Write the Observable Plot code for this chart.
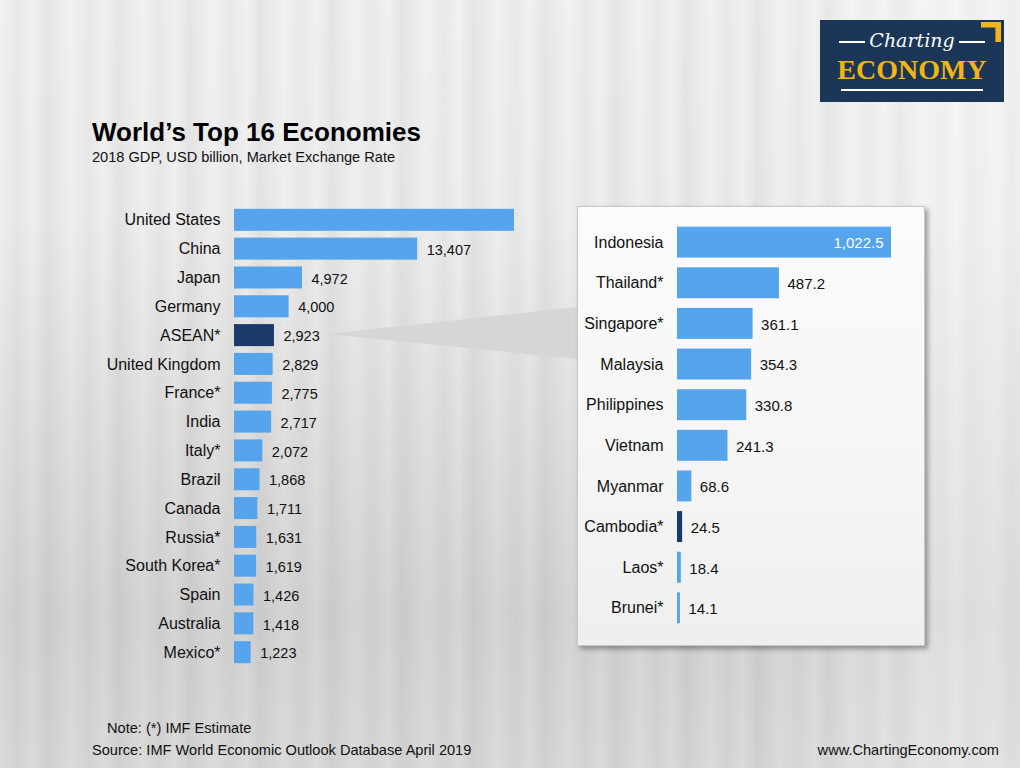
<!DOCTYPE html>
<html>
<head>
<meta charset="utf-8">
<script src="https://cdn.jsdelivr.net/npm/d3@7"></script>
<script src="https://cdn.jsdelivr.net/npm/@observablehq/plot@0.6"></script>
<style>
  html, body { margin: 0; padding: 0; }
  body { width: 1020px; height: 768px; overflow: hidden; font-family: Arial, "Liberation Sans", sans-serif; }
  #page {
    position: relative; width: 1020px; height: 768px; overflow: hidden;
    background:
      linear-gradient(to right, rgba(255,255,255,0) 0%, rgba(255,255,255,0) 75%, rgba(255,255,255,0.35) 95%, rgba(255,255,255,0.2) 100%),
      repeating-linear-gradient(to right, rgba(0,0,0,0.0) 0px, rgba(0,0,0,0.035) 18px, rgba(0,0,0,0.0) 33px, rgba(0,0,0,0.05) 47px, rgba(0,0,0,0.0) 71px),
      linear-gradient(to bottom, #f1f1f1 0%, #eeeeee 28%, #e0e0e0 55%, #d4d4d4 80%, #dadada 100%);
  }
  .abs { position: absolute; }
  #title { left: 92px; top: 117px; font-size: 26px; font-weight: bold; color: #000; white-space: nowrap; }
  #subtitle { left: 92px; top: 149px; font-size: 14.6px; color: #111; white-space: nowrap; }
  #note { left: 107px; top: 720px; font-size: 14.6px; color: #111; }
  #source { left: 92px; top: 742px; font-size: 14.6px; color: #111; }
  #web { right: 21px; top: 742px; font-size: 14.6px; color: #111; }
  #callout { left: 0; top: 0; width: 1020px; height: 768px; background: #d6d6d6;
    clip-path: polygon(327px 334px, 578px 307px, 578px 359px); }
  #panel { left: 577px; top: 206px; width: 346px; height: 438px;
    background: linear-gradient(to bottom, #fbfbfb 0%, #f6f6f6 50%, #efefef 100%);
    border: 1px solid #c8c8c8; box-shadow: 3px 3px 5px rgba(0,0,0,0.35); }
  #leftplot { left: 0; top: 190px; }
  #rightplot { left: 577px; top: 206px; }
  #logo { left: 820px; top: 20px; width: 184px; height: 82px; background: #1c3657; overflow: hidden; }
  #logo .corner { position: absolute; right: 3px; top: 2px; width: 20px; height: 20px; background: #f2b516;
    clip-path: polygon(0 0, 100% 0, 100% 100%, 72% 100%, 72% 28%, 0 28%); }
  #logo .charting { position: absolute; left: 0; width: 184px; top: 9px; text-align: center; color: #fff;
    font-family: "DejaVu Serif", serif; font-style: italic; font-size: 19px; white-space: nowrap; }
  #logo .charting span.dash { display: inline-block; width: 26px; height: 2px; background: #fff; vertical-align: middle; margin: 0 4px; }
  #logo .economy { position: absolute; left: 0; width: 184px; top: 34px; text-align: center; color: #f2b516;
    font-family: "Liberation Serif", "DejaVu Serif", serif; font-weight: bold; font-size: 28px; letter-spacing: 0px; }
  #logo .rule { position: absolute; left: 21px; width: 142px; top: 69px; height: 2px; background: #fff; }
</style>
</head>
<body>
<div id="page">
  <div id="callout" class="abs"></div>
  <div id="title" class="abs">World’s Top 16 Economies</div>
  <div id="subtitle" class="abs">2018 GDP, USD billion, Market Exchange Rate</div>
  <div id="leftplot" class="abs"></div>
  <div id="panel" class="abs"></div>
  <div id="rightplot" class="abs"></div>
  <div id="logo" class="abs">
    <div class="corner"></div>
    <div class="charting"><span class="dash"></span>Charting<span class="dash"></span></div>
    <div class="economy">ECONOMY</div>
    <div class="rule"></div>
  </div>
  <div id="note" class="abs">Note: (*) IMF Estimate</div>
  <div id="source" class="abs">Source: IMF World Economic Outlook Database April 2019</div>
  <div id="web" class="abs">www.ChartingEconomy.com</div>
</div>
<script>
// ---- Data ----
const countries = ["United States", "China", "Japan", "Germany", "ASEAN*", "United Kingdom", "France*", "India",
  "Italy*", "Brazil", "Canada", "Russia*", "South Korea*", "Spain", "Australia", "Mexico*"];
const gdp = [20494, 13407, 4972, 4000, 2923, 2829, 2775, 2717, 2072, 1868, 1711, 1631, 1619, 1426, 1418, 1223];
const gdpLabels = ["", "13,407", "4,972", "4,000", "2,923", "2,829", "2,775", "2,717", "2,072", "1,868", "1,711",
  "1,631", "1,619", "1,426", "1,418", "1,223"];

const aseanCountries = ["Indonesia", "Thailand*", "Singapore*", "Malaysia", "Philippines", "Vietnam", "Myanmar",
  "Cambodia*", "Laos*", "Brunei*"];
const aseanGdp = [1022.5, 487.2, 361.1, 354.3, 330.8, 241.3, 68.6, 24.5, 18.4, 14.1];
const aseanLabels = ["1,022.5", "487.2", "361.1", "354.3", "330.8", "241.3", "68.6", "24.5", "18.4", "14.1"];

const highlightLeft = "ASEAN*";
const highlightRight = "Cambodia*";
const blue = "#56a5ec";
const navy = "#1a3b69";

const leftData = countries.map((c, i) => ({country: c, gdp: gdp[i], label: gdpLabels[i]}));
const rightData = aseanCountries.map((c, i) => ({country: c, gdp: aseanGdp[i], label: aseanLabels[i]}));

const font = 'Arial, "Liberation Sans", sans-serif';

const left = Plot.plot({
  width: 560, height: 490,
  marginLeft: 234, marginRight: 46, marginTop: 12, marginBottom: 10,
  x: {domain: [0, 20494], axis: null},
  y: {domain: countries, padding: 0.236, round: false, axis: null},
  style: {background: "transparent", fontFamily: font, color: "#111", overflow: "visible"},
  marks: [
    Plot.axisY({tickSize: 0, tickPadding: 14, fontSize: 16, label: null}),
    Plot.barX(leftData, {x: "gdp", y: "country", fill: d => d.country === highlightLeft ? navy : blue}),
    Plot.text(leftData, {x: "gdp", y: "country", text: "label", textAnchor: "start", dx: 9, dy: 1, fontSize: 14.5, fill: "#111"})
  ]
});
document.getElementById("leftplot").appendChild(left);

const right = Plot.plot({
  width: 348, height: 440,
  marginLeft: 100, marginRight: 34, marginTop: 11, marginBottom: 13,
  x: {domain: [0, 1022.5], axis: null},
  y: {domain: aseanCountries, padding: 0.238, round: false, axis: null},
  style: {background: "transparent", fontFamily: font, color: "#111", overflow: "visible"},
  marks: [
    Plot.axisY({tickSize: 0, tickPadding: 14, fontSize: 16, label: null}),
    Plot.barX(rightData, {x: "gdp", y: "country", fill: d => d.country === highlightRight ? navy : blue}),
    Plot.text(rightData.slice(0, 1), {x: "gdp", y: "country", text: "label", textAnchor: "end", dx: -8, dy: 1, fontSize: 15, fill: "#fff"}),
    Plot.text(rightData.slice(1), {x: "gdp", y: "country", text: "label", textAnchor: "start", dx: 8, dy: 1, fontSize: 15, fill: "#111"})
  ]
});
document.getElementById("rightplot").appendChild(right);
</script>
</body>
</html>
